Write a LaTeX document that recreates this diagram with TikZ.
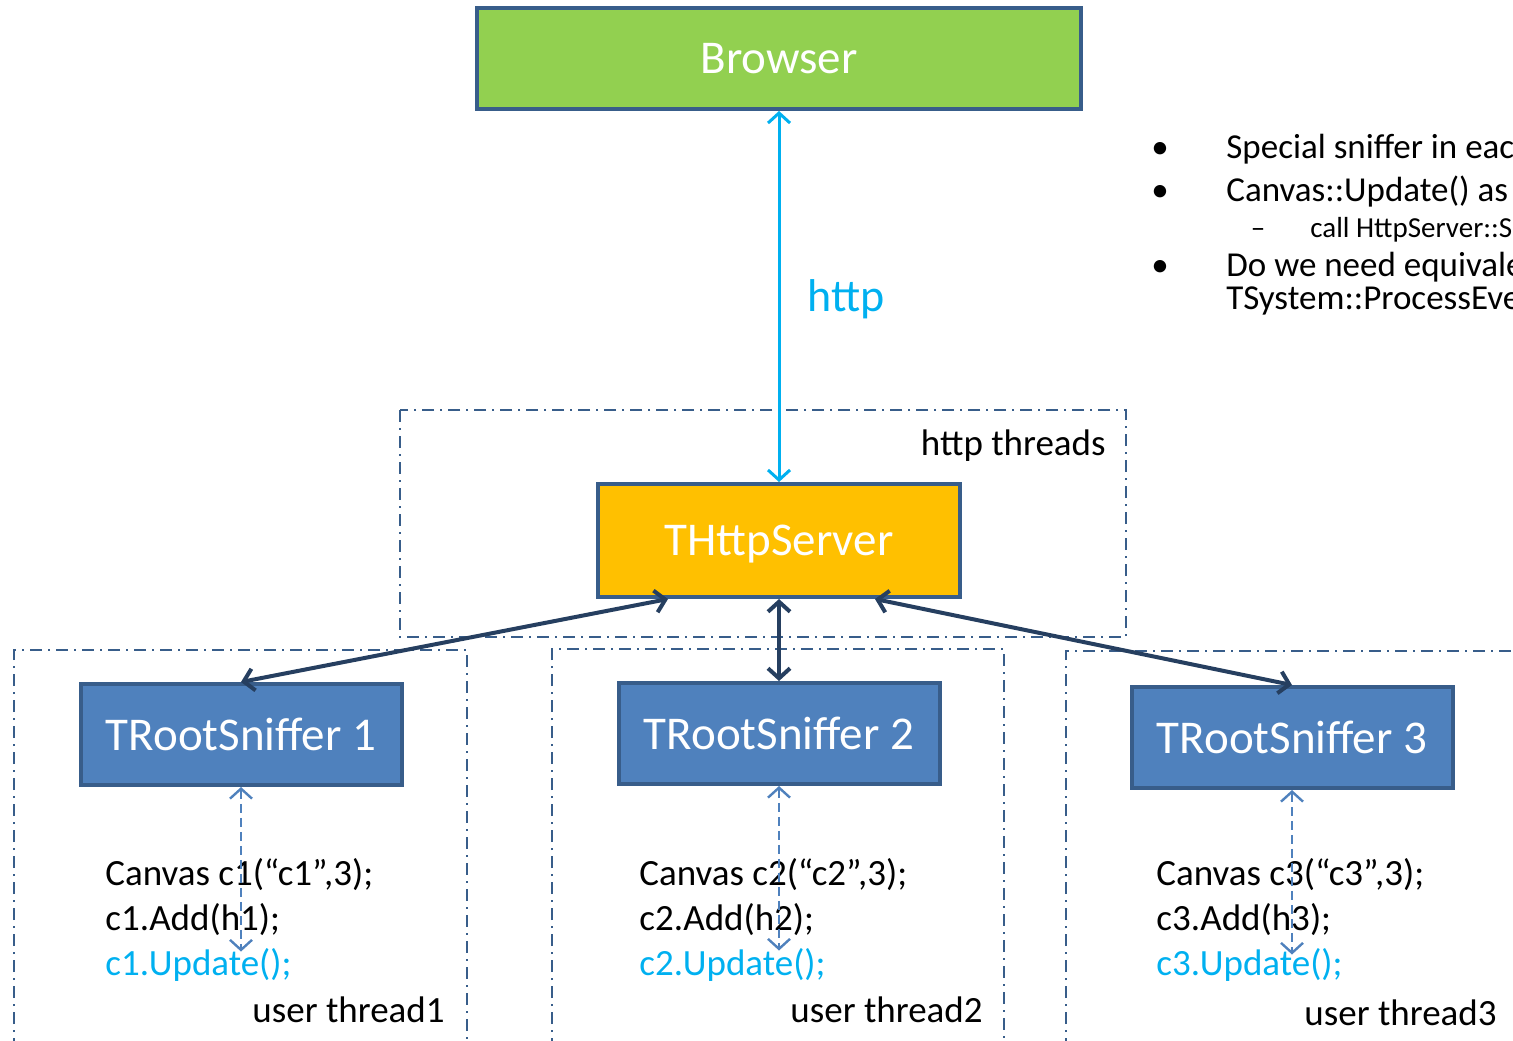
\documentclass[tikz,border=0pt]{standalone}
\usepackage{fontspec}
\setmainfont{Carlito}
\usetikzlibrary{arrows.meta,calc}
\definecolor{boxline}{HTML}{385D8A}
\definecolor{browsergreen}{HTML}{92D050}
\definecolor{serveryellow}{HTML}{FFC000}
\definecolor{snifferblue}{HTML}{4F81BD}
\definecolor{linkdark}{HTML}{263F60}
\definecolor{httpcyan}{HTML}{00B0F0}
\begin{document}
\begin{tikzpicture}[x=0.5pt,y=-0.5pt,>={Straight Barb[length=5pt,width=11pt]},
  box/.style={draw=boxline,line width=2pt,text=white,inner sep=0pt,text depth=0pt,font=\fontsize{23.5}{28}\selectfont},
  thread/.style={draw=boxline,line width=1.2pt,dash pattern=on 6pt off 3pt on 1pt off 3pt},
  code/.style={anchor=base west,inner sep=0pt,font=\fontsize{18.5}{22}\selectfont},
  note/.style={anchor=base west,inner sep=0pt,font=\fontsize{17.5}{21}\selectfont},
  link/.style={<->,draw=linkdark,line width=2pt},
  call/.style={<->,draw=snifferblue,line width=1.2pt,dash pattern=on 4.5pt off 2.5pt}]
\useasboundingbox (0,0) rectangle (1513,1040);
\draw[thread] (400,410) rectangle (1126,637);
\draw[thread] (14,1050) -- (14,650) -- (467,650) -- (467,1050);
\draw[thread] (552,1050) -- (552,649) -- (1004,649) -- (1004,1050);
\draw[thread] (1066,1050) -- (1066,651) -- (1530,651);
\node[box,fill=browsergreen,minimum width=302pt,minimum height=50.5pt] (browser) at (779,58.5) {Browser};
\node[box,fill=serveryellow,minimum width=181pt,minimum height=56.5pt] (server) at (779,540.5) {THttpServer};
\node[anchor=base west,inner sep=0pt,text=httpcyan,font=\fontsize{23}{28}\selectfont] (http) at (807,311) {http};
\node[anchor=base east,inner sep=0pt,font=\fontsize{18.5}{22}\selectfont] (httpthreads) at (1106,455) {http threads};
\draw[<->,draw=httpcyan,line width=1.5pt] (browser.south) -- (server.north);
\foreach \i/\sx/\sy/\cx/\ux/\uy in {1/241/734.5/105/445/1022,2/779/733.5/639/983/1022,3/1292/737.5/1156/1497/1025}
{
\node[box,fill=snifferblue,minimum width=160.5pt,minimum height=50.5pt] (s\i) at (\sx,\sy) {TRootSniffer \i};
\node[code] (canvas\i) at (\cx,885) {Canvas c\i(“c\i”,3);};
\node[code] (add\i) at (\cx,930) {c\i.Add(h\i);};
\node[code,text=httpcyan] (update\i) at (\cx,975) {c\i.Update();};
\node[code,anchor=base east] (user\i) at (\ux,\uy) {user thread\i};
\coordinate (c\i) at (\sx,\sy+217);
\draw[call] (s\i.south) -- (c\i);
}
\draw[link] ($(server.south)+(-111,0)$) -- (s1.north);
\draw[link] (server.south) -- (s2.north);
\draw[link] ($(server.south)+(96,0)$) -- (s3.north);
\foreach \y/\n in {158/1,201/2,276/3}
\node[note,anchor=base] (dot\n) at (1160,\y) {•};
\node[note] (n1) at (1226,158) {Special sniffer in eac};
\node[note] (n2) at (1226,201) {Canvas::Update() as};
\node[note,anchor=base,font=\fontsize{14.5}{17}\selectfont] (dash) at (1258,237) {–};
\node[note,font=\fontsize{14.5}{17}\selectfont] (n3) at (1310,237) {call HttpServer::S};
\node[note] (n4) at (1226,276) {Do we need equivale};
\node[note] (n5) at (1226,309) {TSystem::ProcessEve};
\end{tikzpicture}
\end{document}
